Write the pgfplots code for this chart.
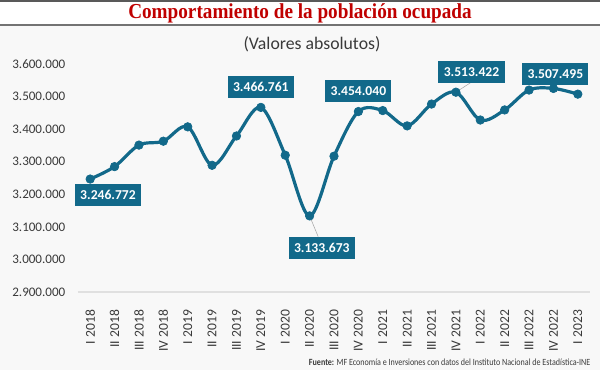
\documentclass[border=0pt]{standalone}
\usepackage{pgfplots}
\pgfplotsset{compat=1.18}
\usepackage{fontspec}
\setmainfont{Carlito}
\newfontfamily\titlefont[FakeStretch=0.9]{Liberation Serif}
\newfontfamily\footfont[FakeStretch=0.85]{Carlito}
\definecolor{teal1}{HTML}{12698A}
\definecolor{tred}{HTML}{C00000}
\definecolor{bgc}{HTML}{F8F8F8}
\definecolor{txt}{HTML}{3A3A3A}
\begin{document}
\begin{tikzpicture}
\path[use as bounding box] (0,0) rectangle (450pt,277.5pt);
\fill[bgc] (0,0) rectangle (450pt,258.75pt);
\fill[white] (0,258.75pt) rectangle (450pt,277.5pt);
\draw[black!65, line width=1.1pt] (0,276.9pt) -- (450pt,276.9pt);
\draw[black!55, line width=0.8pt] (0,258.75pt) -- (450pt,258.75pt);
\node[text=tred, font=\titlefont\bfseries\fontsize{16}{18}\selectfont] at (225pt,267.5pt) {Comportamiento de la población ocupada};
\node[text=txt, font=\fontsize{13.3}{15}\selectfont] at (234pt,244.5pt) {(Valores absolutos)};
\node[anchor=east, text=txt, font=\footfont\fontsize{7.1}{8}\selectfont, inner sep=0pt] at (443pt,6pt) {\textbf{Fuente:} MF Economía e Inversiones con datos del Instituto Nacional de Estadística-INE};
\begin{axis}[
  at={(58.5pt,58.5pt)}, anchor=south west,
  scale only axis, width=384pt, height=171pt,
  xmin=-0.5, xmax=20.5, ymin=2900000, ymax=3600000,
  ytick={2900000,3000000,...,3600000},
  scaled y ticks=false,
  xtick={0,...,20},
  xticklabels={I 2018,II 2018,III 2018,IV 2018,I 2019,II 2019,III 2019,IV 2019,I 2020,II 2020,III 2020,IV 2020,I 2021,II 2021,III 2021,IV 2021,I 2022,II 2022,III 2022,IV 2022,I 2023},
  major tick length=0pt,
  axis line style={draw=none},
  clip=false,
  y tick label style={/pgf/number format/fixed, /pgf/number format/1000 sep={.}, /pgf/number format/assume math mode=true, text=txt, font=\fontsize{9.8}{12}\selectfont, xshift=-6pt},
  x tick label style={rotate=90, anchor=east, text=txt, font=\fontsize{10.2}{12}\selectfont, xshift=-10pt},
]
\draw[black!12, line width=0.8pt] (axis cs:-0.5,2900000) -- (axis cs:20.5,2900000);
\addplot[teal1, line width=2.4pt, smooth, tension=0.55, mark=*, mark size=3.2pt, mark options={fill=teal1, draw=teal1, line width=0.5pt}] coordinates {
(0,3246772) (1,3285000) (2,3351000) (3,3363000) (4,3407000) (5,3289000) (6,3379000) (7,3466761) (8,3320000) (9,3133673) (10,3317000) (11,3454040) (12,3457000) (13,3410000) (14,3477000) (15,3513422) (16,3428000) (17,3459000) (18,3520000) (19,3525000) (20,3507495)};
\draw[black!35, line width=0.4pt] (axis cs:9,3133673) -- (axis cs:9.35,3070000);
\draw[black!35, line width=0.4pt] (axis cs:15,3513422) -- (axis cs:15.65,3545000);
\tikzset{lbl/.style={fill=teal1, text=white, font=\bfseries\fontsize{10.2}{12}\selectfont, inner xsep=4pt, inner ysep=0pt, minimum height=17pt}}
\node[lbl] at (axis cs:0.73,3198000) {3.246.772};
\node[lbl] at (axis cs:7.0,3529000) {3.466.761};
\node[lbl] at (axis cs:9.5,3035000) {3.133.673};
\node[lbl] at (axis cs:11.0,3517000) {3.454.040};
\node[lbl] at (axis cs:15.64,3575000) {3.513.422};
\node[lbl] at (axis cs:19.08,3569000) {3.507.495};
\end{axis}
\end{tikzpicture}
\end{document}
